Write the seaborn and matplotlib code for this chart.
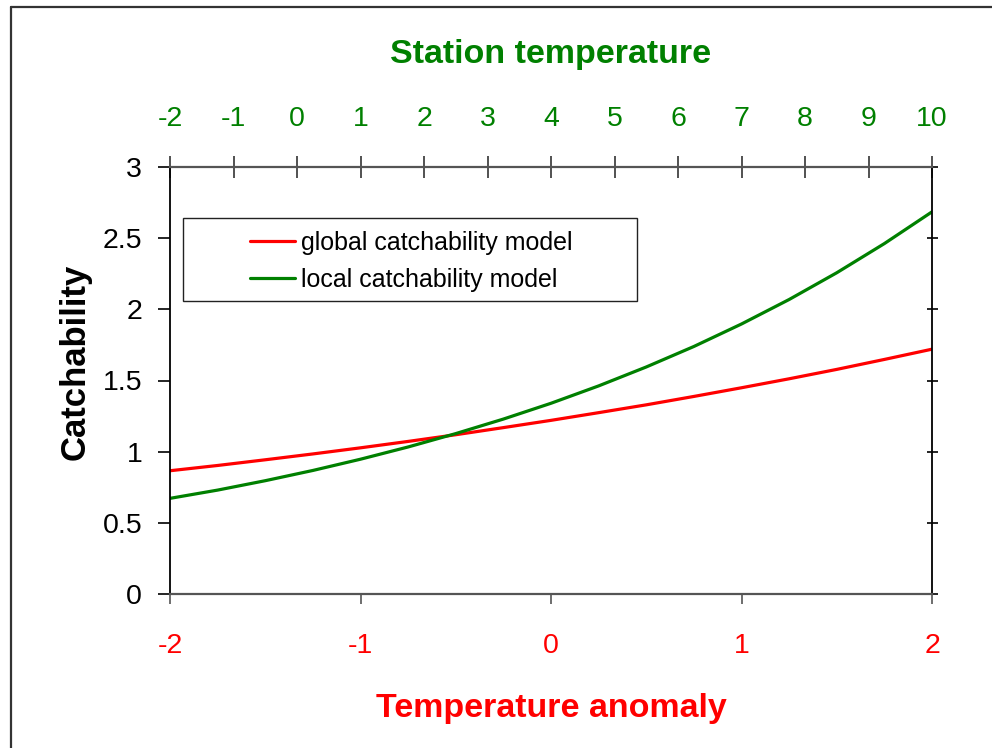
import matplotlib
matplotlib.use("Agg")
import matplotlib.pyplot as plt
from matplotlib.lines import Line2D
from matplotlib.patches import Rectangle
import seaborn as sns
import pandas as pd

# Temperature anomaly grid and the two catchability curves
anomaly = [-2.0, -1.75, -1.5, -1.25, -1.0, -0.75, -0.5, -0.25, 0.0,
           0.25, 0.5, 0.75, 1.0, 1.25, 1.5, 1.75, 2.0]
global_q = [0.866, 0.903, 0.943, 0.984, 1.027, 1.072, 1.119, 1.169, 1.220,
            1.274, 1.329, 1.388, 1.449, 1.512, 1.578, 1.648, 1.720]
local_q = [0.672, 0.730, 0.796, 0.868, 0.947, 1.033, 1.127, 1.229, 1.340,
           1.462, 1.595, 1.739, 1.897, 2.069, 2.257, 2.462, 2.685]

series_names = ["global catchability model", "local catchability model"]
series_colors = ["#FF0000", "#008000"]

bottom_ticks = [-2, -1, 0, 1, 2]
top_ticks = [-2, -1, 0, 1, 2, 3, 4, 5, 6, 7, 8, 9, 10]
y_ticks = [0, 0.5, 1, 1.5, 2, 2.5, 3]
y_ticklabels = ["0", "0.5", "1", "1.5", "2", "2.5", "3"]

df = pd.DataFrame({
    "anomaly": anomaly * 2,
    "q": global_q + local_q,
    "model": [series_names[0]] * len(anomaly) + [series_names[1]] * len(anomaly),
})

sns.set_theme(style="white")
plt.rcParams["font.family"] = ["Liberation Sans", "DejaVu Sans"]
plt.rcParams["text.color"] = "black"

fig = plt.figure(figsize=(9.92, 7.48), dpi=100)
ax = fig.add_axes([170 / 992, 1 - 594 / 748, 762 / 992, 427 / 748])

sns.lineplot(data=df, x="anomaly", y="q", hue="model", hue_order=series_names,
             palette=series_colors, linewidth=2.3, ax=ax, legend=False)

ax.set_xlim(-2, 2)
ax.set_ylim(0, 3)
ax.set_xlabel("")
ax.set_ylabel("")

# spines
for side in ["left", "right"]:
    ax.spines[side].set_color("black")
    ax.spines[side].set_linewidth(1.3)
for side in ["top", "bottom"]:
    ax.spines[side].set_color("#555555")
    ax.spines[side].set_linewidth(1.6)

TICK_FS = 20.5

# bottom axis
ax.set_xticks(bottom_ticks)
ax.set_xticklabels([str(t) for t in bottom_ticks])
ax.tick_params(axis="x", bottom=True, direction="out", length=7, width=1.2,
               color="#555555", labelsize=TICK_FS, labelcolor="#FF0000", pad=21)

# left / right y axis
ax.set_yticks(y_ticks)
ax.set_yticklabels(y_ticklabels)
ax.tick_params(axis="y", left=True, right=True, direction="out", length=9,
               width=1.2, color="black", labelsize=TICK_FS, labelcolor="black", pad=11)
for t in ax.yaxis.get_major_ticks():
    t.tick2line.set_marker(matplotlib.lines.TICKLEFT)
    t.tick2line.set_markersize(8)
    t.tick2line.set_markeredgewidth(1.2)
    t.tick2line.set_transform(t.tick2line.get_transform() +
                              matplotlib.transforms.ScaledTranslation(4 / 72, 0, fig.dpi_scale_trans))

# top axis: station temperature = 4 + 3 * anomaly
top = ax.secondary_xaxis("top", functions=(lambda a: 4 + 3 * a, lambda s: (s - 4) / 3))
top.set_xticks(top_ticks)
top.set_xticklabels([str(t) for t in top_ticks])
top.tick_params(axis="x", direction="inout", length=16, width=1.2, color="#333333",
                labelsize=TICK_FS, labelcolor="#008000", pad=17)
top.spines["top"].set_visible(False)

# legend box and entries
ax.add_patch(Rectangle((13 / 762, (594 - 301) / 427), 454 / 762, 83 / 427,
                       transform=ax.transAxes, fill=False, edgecolor="#222222",
                       linewidth=1.0, zorder=5))
handles = [Line2D([], [], color=c, linewidth=2.3) for c in series_colors]
ax.legend(handles, series_names, loc="upper left",
          bbox_to_anchor=(80 / 762, (594 - 231) / 427), frameon=False,
          fontsize=18, handlelength=1.8, handletextpad=0.25, labelspacing=0.52,
          borderaxespad=0, borderpad=0, labelcolor="black")

# axis titles
fig.text(551 / 992, 1 - 55 / 748, "Station temperature", color="#008000",
         fontsize=24.5, fontweight="bold", ha="center", va="center")
fig.text(551 / 992, 1 - 708 / 748, "Temperature anomaly", color="#FF0000",
         fontsize=24.5, fontweight="bold", ha="center", va="center")
fig.text(75 / 992, 1 - 362 / 748, "Catchability", color="black",
         fontsize=25, fontweight="bold", ha="center", va="center", rotation=90)

# outer frame of the figure
fig.add_artist(Line2D([10.5 / 992, 10.5 / 992], [0, 1 - 6.5 / 748],
                      transform=fig.transFigure, color="#333333", linewidth=1.6))
fig.add_artist(Line2D([10.5 / 992, 1], [1 - 6.5 / 748, 1 - 6.5 / 748],
                      transform=fig.transFigure, color="#333333", linewidth=1.6))

fig.savefig("out.png", dpi=100, facecolor="white")
